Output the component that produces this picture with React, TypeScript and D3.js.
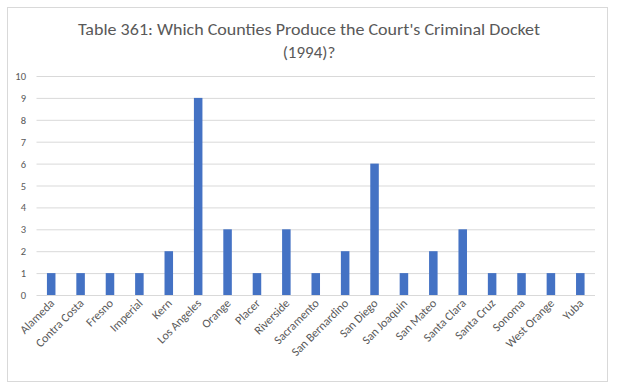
import React from "react";
import * as d3 from "d3";

const categories = [
  "Alameda", "Contra Costa", "Fresno", "Imperial", "Kern", "Los Angeles",
  "Orange", "Placer", "Riverside", "Sacramento", "San Bernardino", "San Diego",
  "San Joaquin", "San Mateo", "Santa Clara", "Santa Cruz", "Sonoma",
  "West Orange", "Yuba",
];
const values = [1, 1, 1, 1, 2, 9, 3, 1, 3, 1, 2, 6, 1, 2, 3, 1, 1, 1, 1];
const yTicks = [0, 1, 2, 3, 4, 5, 6, 7, 8, 9, 10];
const titleLines = [
  "Table 361: Which Counties Produce the Court's Criminal Docket",
  "(1994)?",
];

export default function App() {
  const W = 619, H = 392;
  const left = 36.5, right = 595, top = 76, bottom = 295;
  const x = d3.scaleBand<string>().domain(categories).range([left, right]).paddingInner(0.71).paddingOuter(0.355);
  const y = d3.scaleLinear().domain([0, 10]).range([bottom, top]);
  const font = "Calibri, Carlito, Lato, 'Open Sans', sans-serif";
  return (
    <svg width={W} height={H} style={{ position: "absolute", left: 0, top: 0 }} fontFamily={font}>
      <rect x={0} y={0} width={W} height={H} fill="#fff" />
      <rect x={7.5} y={7.5} width={600} height={374} fill="#fff" stroke="#d9d9d9" />
      <text x={309} y={35} textAnchor="middle" fontSize={17} fill="#595959" textLength={462} lengthAdjust="spacingAndGlyphs">{titleLines[0]}</text>
      <text x={309} y={58} textAnchor="middle" fontSize={17} fill="#595959">{titleLines[1]}</text>
      {yTicks.map((t) => (
        <g key={t}>
          <line x1={left} x2={right} y1={y(t) + 0.5} y2={y(t) + 0.5} stroke="#d9d9d9" />
          <text x={26} y={y(t) + 4} textAnchor="end" fontSize={10.5} fill="#595959">{t}</text>
        </g>
      ))}
      {categories.map((c, i) => (
        <rect key={c} x={x(c)} y={y(values[i])} width={x.bandwidth()} height={y(0) - y(values[i])} fill="#4472c4" />
      ))}
      {categories.map((c) => {
        const cx = (x(c) as number) + x.bandwidth() / 2 + 4;
        const cy = 304;
        return (
          <text key={c} x={cx} y={cy} transform={`rotate(-45 ${cx} ${cy})`} textAnchor="end" fontSize={12} fill="#595959">{c}</text>
        );
      })}
    </svg>
  );
}
